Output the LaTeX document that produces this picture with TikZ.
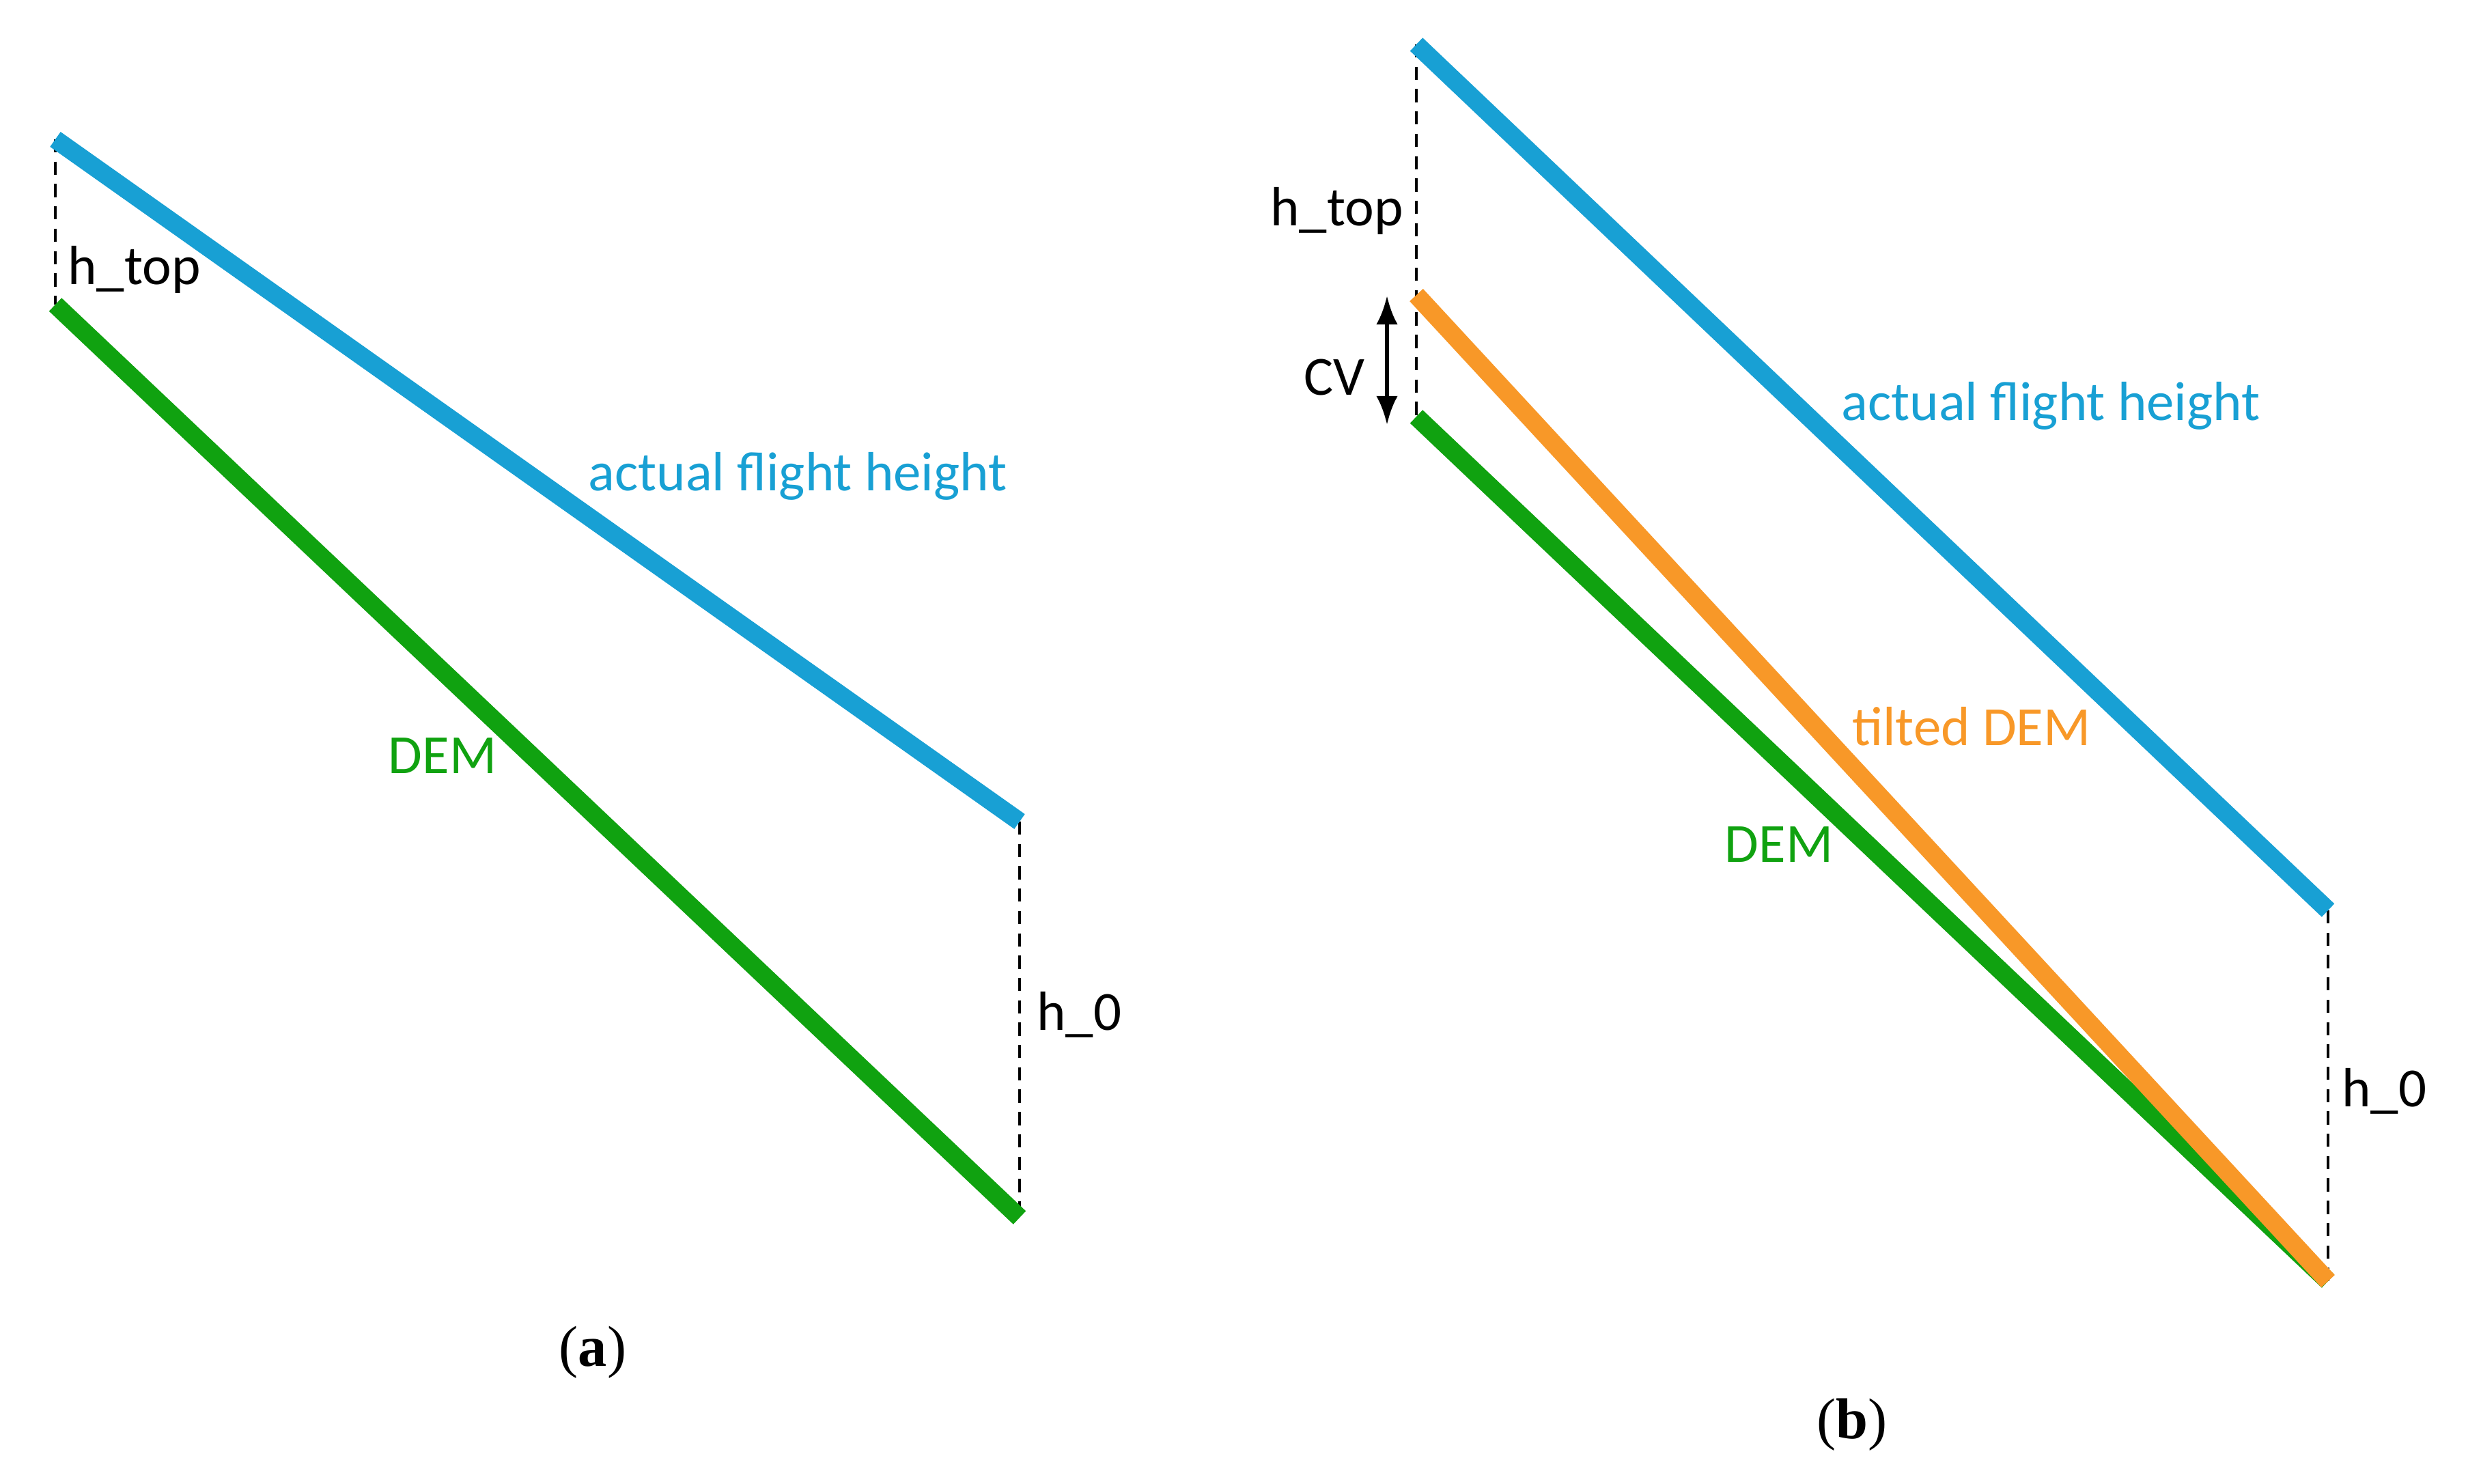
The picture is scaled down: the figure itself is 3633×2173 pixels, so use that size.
\documentclass[tikz,border=0pt]{standalone}
\usepackage{fontspec}
\setmainfont{Liberation Serif}
\newfontfamily\labelfont{Carlito}
\usetikzlibrary{arrows.meta}
\definecolor{flightblue}{RGB}{24,160,212}
\definecolor{demgreen}{RGB}{16,162,16}
\definecolor{tiltorange}{RGB}{248,152,40}

\begin{document}
\begin{tikzpicture}[x=0.01cm, y=-0.01cm,
                    line width=7.6pt,
                    font=\labelfont\fontsize{23}{27}\selectfont,
                    ]
    \tikzstyle{height}=[draw=black, line width=1.3pt, dash pattern=on 5.5pt off 3.8pt]
    \tikzstyle{flight}=[draw=flightblue]
    \tikzstyle{dem}=[draw=demgreen]
    \tikzstyle{tilted}=[draw=tiltorange]
    \tikzstyle{lbl}=[inner sep=0pt, text=black]
    \tikzstyle{caption}=[inner sep=0pt, font=\fontsize{24}{28}\selectfont]

    \useasboundingbox (0,0) rectangle (3633,2173);

    % panel (a)
    \coordinate (aFlyTop) at (81,204);
    \coordinate (aFlyEnd) at (1493,1203);
    \coordinate (aDemTop) at (81,446);
    \coordinate (aDemEnd) at (1493,1783);

    \draw[height] (aFlyTop) -- (aDemTop);
    \draw[height] (aFlyEnd) -- (aDemEnd);
    \draw[flight] (aFlyTop) -- (aFlyEnd);
    \draw[dem] (aDemTop) -- (aDemEnd);

    \node[lbl, anchor=west] (aHtop) at (86,395) {h\_top};
    \node[lbl, anchor=west] (aHzero) at (1505,1486) {h\_0};
    \node[lbl, text=flightblue] (aFlyLbl) at (1168,697) {actual flight height};
    \node[lbl, text=demgreen] (aDemLbl) at (648,1107) {DEM};
    \node[caption] (aCap) at (868,1980) {(\textbf{a})};

    % panel (b)
    \coordinate (bFlyTop) at (2074,65);
    \coordinate (bFlyEnd) at (3409,1333);
    \coordinate (bTiltTop) at (2074,432);
    \coordinate (bDemTop) at (2074,610);
    \coordinate (bDemEnd) at (3409,1876);
    \coordinate (bCvTop) at (2031,433);
    \coordinate (bCvEnd) at (2031,622);

    \draw[height] (bFlyTop) -- (bDemTop);
    \draw[height] (bFlyEnd) -- (bDemEnd);
    \draw[flight] (bFlyTop) -- (bFlyEnd);
    \draw[dem] (bDemTop) -- (bDemEnd);
    \draw[tilted] (bTiltTop) -- (bDemEnd);
    \draw[line width=1.7pt, {Latex[length=12pt,width=9pt]}-{Latex[length=12pt,width=9pt]}] (bCvTop) -- (bCvEnd);

    \node[lbl, anchor=east] (bHtop) at (2068,309) {h\_top};
    \node[lbl, anchor=east] (bCv) at (2012,553) {CV};
    \node[lbl, anchor=west] (bHzero) at (3416,1598) {h\_0};
    \node[lbl, text=flightblue] (bFlyLbl) at (3003,594) {actual flight height};
    \node[lbl, text=tiltorange] (bTiltLbl) at (2887,1064) {tilted DEM};
    \node[lbl, text=demgreen] (bDemLbl) at (2605,1237) {DEM};
    \node[caption] (bCap) at (2712,2086) {(\textbf{b})};
\end{tikzpicture}
\end{document}
